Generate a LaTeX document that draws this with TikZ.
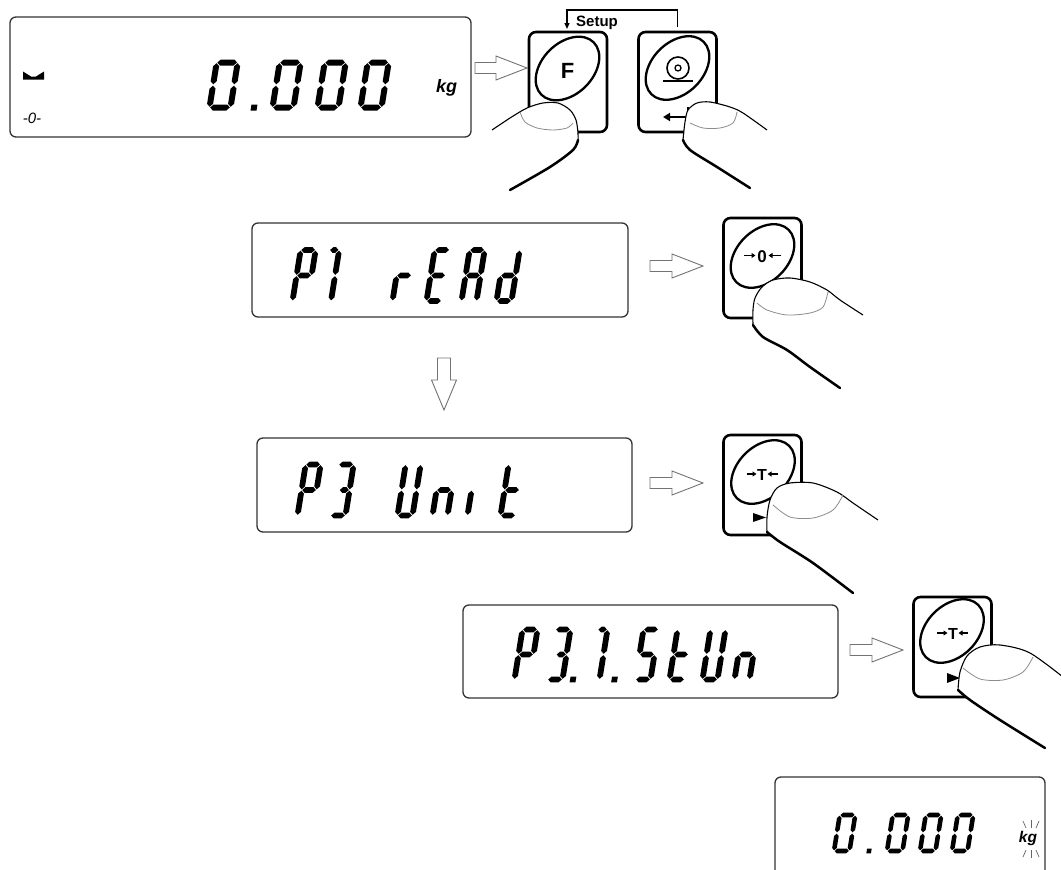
\documentclass[tikz,border=0pt]{standalone}
\usepackage{fontspec}
\setmainfont{Liberation Sans}
\usetikzlibrary{shapes.geometric,arrows.meta,calc}

\newcommand\sgW{15}
\newcommand\sgHt{51}
\newcommand\sgT{2.9}
\newcommand\sgG{0.7}
\newcommand\segH[3]{\fill ({#1+\sgG},{#3}) -- ({#1+\sgG+\sgT},{#3+\sgT}) -- ({#2-\sgG-\sgT},{#3+\sgT}) -- ({#2-\sgG},{#3}) -- ({#2-\sgG-\sgT},{#3-\sgT}) -- ({#1+\sgG+\sgT},{#3-\sgT}) -- cycle;}
\newcommand\segV[3]{\fill ({#1},{#2+\sgG}) -- ({#1+\sgT},{#2+\sgG+\sgT}) -- ({#1+\sgT},{#3-\sgG-\sgT}) -- ({#1},{#3-\sgG}) -- ({#1-\sgT},{#3-\sgG-\sgT}) -- ({#1-\sgT},{#2+\sgG+\sgT}) -- cycle;}
\def\sga{\segH{0}{\sgW}{\sgHt}}
\def\sgb{\segV{\sgW}{\sgHt/2}{\sgHt}}
\def\sgc{\segV{\sgW}{0}{\sgHt/2}}
\def\sgd{\segH{0}{\sgW}{0}}
\def\sge{\segV{0}{0}{\sgHt/2}}
\def\sgf{\segV{0}{\sgHt/2}{\sgHt}}
\def\sgg{\segH{0}{\sgW}{\sgHt/2}}
\def\sgh{\segH{\sgW*0.35}{\sgW}{\sgHt}}
\def\sgk{\segH{\sgW*0.3}{\sgW}{\sgHt/2}}
\def\sgp{\fill ({-\sgT},{-\sgT}) rectangle ({\sgT},{\sgT});}
\newcommand\lcdchar[3]{\begin{scope}[shift={(#1,#2)},x=1pt,y=1pt,xslant=0.16]\foreach \s in {#3}{\csname sg\s\endcsname}\end{scope}}

\newcommand\hollowH[2]{\draw[hollow] let \p1=(#1),\p2=(#2) in (\x1,\y1+5.5pt) -- (\x2-31pt,\y1+5.5pt) -- (\x2-31pt,\y1+12pt) -- (\x2,\y1) -- (\x2-31pt,\y1-12pt) -- (\x2-31pt,\y1-5.5pt) -- (\x1,\y1-5.5pt) -- cycle;}
\newcommand\hollowV[2]{\draw[hollow] let \p1=(#1),\p2=(#2) in (\x1-6.5pt,\y1) -- (\x1-6.5pt,\y2+30pt) -- (\x1-12.5pt,\y2+30pt) -- (\x1,\y2) -- (\x1+12.5pt,\y2+30pt) -- (\x1+6.5pt,\y2+30pt) -- (\x1+6.5pt,\y1) -- cycle;}

\newcommand\finger[3]{%
 \fill[white] plot[smooth] coordinates {#1} -- plot[smooth] coordinates {#2} -- cycle;
 \draw[line width=1.1pt] plot[smooth] coordinates {#1};
 \draw[line width=2.5pt,line cap=round] plot[smooth] coordinates {#2};
 \draw[black!45,line width=0.8pt] plot[smooth] coordinates {#3};}

\begin{document}
\begin{tikzpicture}[x=1pt,y=-1pt,
  disp/.style={draw=black!80,line width=1.3pt,rounded corners=6pt,inner sep=0pt},
  keybox/.style={draw,line width=2.6pt,rounded corners=7pt,minimum width=78pt,minimum height=100pt,inner sep=0pt},
  keyell/.style={draw,ellipse,line width=2.3pt,minimum width=74pt,minimum height=51pt,rotate=45,inner sep=0pt},
  hollow/.style={draw=black!55,line width=0.9pt,fill=white},
  tinyarr/.style={line width=1.3pt,-{Triangle[length=4pt,width=5pt]}},
  ray/.style={black!60,line width=0.7pt}]
\useasboundingbox (0,0) rectangle (1061,870);
\clip (0,0) rectangle (1061,870);

% ---------- displays ----------
\node[disp,minimum width=461pt,minimum height=120pt] (d1) at (240.5,77) {};
\node[disp,minimum width=376pt,minimum height=94pt] (d2) at (440,270) {};
\node[disp,minimum width=375pt,minimum height=94pt] (d3) at (444.5,485) {};
\node[disp,minimum width=375pt,minimum height=93pt] (d4) at (650.5,651.5) {};
\node[disp,minimum width=270pt,minimum height=123pt] (d5) at (910,838.5) {};

% display 1: 0.000 kg
\def\sgW{21}\def\sgHt{45}\def\sgT{3}
\lcdchar{209.5}{107.5}{a,b,c,d,e,f}
\lcdchar{254}{107.5}{p}
\lcdchar{272.5}{107.5}{a,b,c,d,e,f}
\lcdchar{317.5}{107.5}{a,b,c,d,e,f}
\lcdchar{360.5}{107.5}{a,b,c,d,e,f}
\node[font=\fontsize{18}{18}\selectfont\bfseries\itshape] (kg1) at (446.5,88) {kg};
\node[font=\fontsize{15}{15}\selectfont\itshape] (zero1) at (32,118) {-0-};
\fill (23,71.5) -- (31,76.5) -- (36,76.5) -- (44,71.5) -- (44,79.5) -- (23,79.5) -- cycle;

% display 2: P1 rEAd
\def\sgW{15}\def\sgHt{51}\def\sgT{2.9}
\lcdchar{292.5}{301}{a,b,e,f,g}
\lcdchar{316}{301}{b,c,h}
\lcdchar{392.5}{301}{e,g}
\lcdchar{426.5}{301}{a,d,e,f,g}
\lcdchar{461.5}{301}{a,b,c,e,f,g}
\lcdchar{496.5}{301}{b,c,d,e,g}

% display 3: P3 Unit
\lcdchar{297.5}{515.5}{a,b,e,f,g}
\lcdchar{330.5}{515.5}{a,b,k,c,d}
\lcdchar{397.5}{515.5}{b,c,d,e,f}
\lcdchar{432.5}{515.5}{c,e,g}
\lcdchar{467.5}{515.5}{e}
\lcdchar{500.5}{515.5}{d,e,f,g}

% display 4: P3.1.StUn
\def\sgHt{50}
\lcdchar{514.5}{679.5}{a,b,e,f,g}
\lcdchar{547.5}{679.5}{a,b,k,c,d}
\lcdchar{573}{679.5}{p}
\lcdchar{584.5}{679.5}{b,c,h}
\lcdchar{614.5}{679.5}{p}
\lcdchar{635.5}{679.5}{a,f,g,c,d}
\lcdchar{669.5}{679.5}{d,e,f,g}
\lcdchar{702.5}{679.5}{b,c,d,e,f}
\lcdchar{734.5}{679.5}{c,e,g}

% display 5: 0.000 kg (blinking)
\def\sgW{15.5}\def\sgHt{36}\def\sgT{2.3}
\lcdchar{834}{851}{a,b,c,d,e,f}
\lcdchar{869}{851}{p}
\lcdchar{887}{851}{a,b,c,d,e,f}
\lcdchar{920}{851}{a,b,c,d,e,f}
\lcdchar{952}{851}{a,b,c,d,e,f}
\node[font=\fontsize{15.5}{15.5}\selectfont\bfseries\itshape] (kg5) at (1028,838) {kg};
\draw[ray] (1023,821) -- (1026,828);
\draw[ray] (1031,820) -- (1031,828);
\draw[ray] (1039,821) -- (1036,828);
\draw[ray] (1023,857) -- (1026,850);
\draw[ray] (1031,850) -- (1031,858);
\draw[ray] (1039,857) -- (1036,850);

% ---------- hollow arrows ----------
\coordinate (a1s) at (475,68);  \coordinate (a1e) at (527,68);
\coordinate (a2s) at (650,266); \coordinate (a2e) at (703,266);
\coordinate (a3s) at (650,483); \coordinate (a3e) at (703,483);
\coordinate (a4s) at (850,650); \coordinate (a4e) at (903,650);
\coordinate (dvs) at (444,358); \coordinate (dve) at (444,410);
\hollowH{a1s}{a1e}
\hollowH{a2s}{a2e}
\hollowH{a3s}{a3e}
\hollowH{a4s}{a4e}
\hollowV{dvs}{dve}

% ---------- keys ----------
\node[keybox] (kF) at (568,82) {};
\node[keybox] (kS) at (677.5,82) {};
\node[keybox] (k0) at (762.5,268) {};
\node[keybox] (kT1) at (762.5,485) {};
\node[keybox] (kT2) at (952.5,647) {};

\node[keyell] (eF) at (567.5,68.5) {};
\node[keyell] (eS) at (677.5,68) {};
\node[keyell] (e0) at (762.5,256) {};
\node[keyell] (eT1) at (763,472) {};
\node[keyell] (eT2) at (952,631) {};

% key symbols
\node[font=\fontsize{22}{22}\selectfont\bfseries,anchor=base,inner sep=0pt] (tF) at (567.5,78) {F};
\draw[line width=1.6pt] (678,68) circle (11);
\draw[line width=1.3pt] (678,68) circle (3);
\draw[line width=1.6pt] (663,81) -- (693,81);
\draw[line width=2.2pt,-{Triangle[length=7pt,width=8pt]}] (688,117) -- (663,117);
\draw[line width=2pt] (688,107) -- (688,118);

\node[font=\fontsize{17}{17}\selectfont\bfseries,anchor=base,inner sep=0pt] (t0) at (762,262) {0};
\draw[tinyarr] (744,255.5) -- (755.5,255.5);
\draw[tinyarr] (781,255.5) -- (768.5,255.5);

\node[font=\fontsize{16}{16}\selectfont\bfseries,anchor=base,inner sep=0pt] (tT1) at (762,480) {T};
\draw[tinyarr] (747,474) -- (756.5,474);
\draw[tinyarr] (778,474) -- (767.5,474);
\fill (753,513) -- (766,517.5) -- (753,522) -- cycle;

\node[font=\fontsize{16}{16}\selectfont\bfseries,anchor=base,inner sep=0pt] (tT2) at (953,639) {T};
\draw[tinyarr] (937,633) -- (947.5,633);
\draw[tinyarr] (968,633) -- (958.5,633);
\fill (947,673) -- (960,678) -- (947,683) -- cycle;

% ---------- fingers ----------
\finger{(492,130) (510,118) (527,108) (543,103) (558,103) (570,110) (576,120) (578,133) (578,140)}
       {(578,140) (573,150) (550,167) (510,190)}
       {(520,112) (525,122) (537,128) (553,130) (567,128) (573,123)}
\finger{(767,130) (743,113) (730,107) (710,102) (697,103) (688,110) (685,122) (683,140)}
       {(683,140) (690,150) (717,167) (750,188)}
       {(737,112) (733,123) (720,128) (703,128) (690,123)}
\finger{(863,315) (840,300) (827,290) (810,282) (790,278) (773,280) (762,287) (755,298) (753,310) (753,325)}
       {(753,325) (763,337) (787,350) (810,367) (840,388)}
       {(757,303) (767,310) (787,315) (810,313) (823,307) (828,292)}
\finger{(878,520) (853,503) (837,492) (813,483) (790,483) (777,488) (770,500) (767,517) (767,532)}
       {(767,532) (780,542) (813,563) (853,593)}
       {(773,505) (790,517) (813,518) (833,510) (843,495)}
\finger{(1068,681) (1030,653) (1000,645) (980,647) (967,656) (960,672) (958,690)}
       {(958,690) (970,700) (1000,720) (1045,748)}
       {(963,668) (980,679) (1003,680) (1023,672) (1033,657)}

% ---------- Setup bracket ----------
\draw[line width=1.3pt,-{Triangle[length=6pt,width=5pt]}] ([yshift=4pt]kS.north) -- (677.5,10) -- (567,10) -- (567,29);
\node[font=\fontsize{15}{15}\selectfont\bfseries,anchor=base west,inner sep=0pt] (setup) at (576,27) {Setup};
\end{tikzpicture}
\end{document}
